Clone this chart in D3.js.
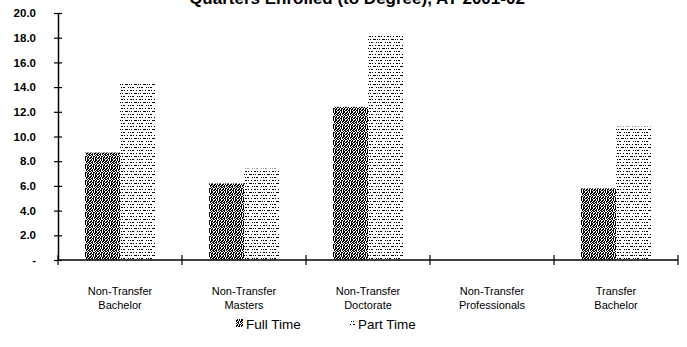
<!DOCTYPE html>
<html>
<head>
<meta charset="utf-8">
<script src="https://cdn.jsdelivr.net/npm/d3@7/dist/d3.min.js"></script>
<style>
  html, body { margin: 0; padding: 0; background: #fff; }
  svg { display: block; }
  text { font-family: "Liberation Sans", Arial, sans-serif; fill: #000; }
</style>
</head>
<body>
<svg id="chart" width="687" height="347"></svg>
<script>
// Average quarters enrolled to degree, by student group
const categories = [
  ["Non-Transfer", "Bachelor"],
  ["Non-Transfer", "Masters"],
  ["Non-Transfer", "Doctorate"],
  ["Non-Transfer", "Professionals"],
  ["Transfer", "Bachelor"]
];
const series = ["Full Time", "Part Time"];
const fullTime = [8.7, 6.2, 12.4, 0, 5.8];
const partTime = [14.3, 7.4, 18.3, 0, 10.8];
const yTicks = [0, 2, 4, 6, 8, 10, 12, 14, 16, 18, 20];
const titleText = "Quarters Enrolled (to Degree), AY 2001-02";

const svg = d3.select("#chart");
const keys = categories.map(c => c.join(" "));
const values = [fullTime, partTime];

const x = d3.scaleBand().domain(keys).range([58, 678]);
const xs = d3.scaleBand().domain(series).range([0, x.bandwidth()]).paddingOuter(0.77);
const y = d3.scaleLinear().domain([0, 20]).range([260, 13]);

// pixel fill patterns: "#" = ink
const defs = svg.append("defs");
function pixelPattern(id, rows, ink) {
  const w = rows[0].length, h = rows.length;
  const p = defs.append("pattern").attr("id", id)
    .attr("patternUnits", "userSpaceOnUse").attr("width", w).attr("height", h);
  p.append("rect").attr("width", w).attr("height", h).attr("fill", "#fff");
  rows.forEach((r, yy) => {
    [...r].forEach((c, xx) => {
      if (c === "#") p.append("rect").attr("x", xx).attr("y", yy)
        .attr("width", 1).attr("height", 1).attr("fill", ink);
    });
  });
}
pixelPattern("pat-full", [
  "##.#.##.",
  "#.#.##.#",
  ".##.#.##",
  "#.#..#.#",
  ".#.##.#.",
  "##.#.##.",
  "#.##.#.#",
  ".#.#.##."
], "#000");
pixelPattern("pat-part", [
  "##.#..#..",
  ".........",
  ".........",
  ".#..###.#",
  ".........",
  ".........",
  "#.##...#.",
  ".........",
  "........."
], "#000");
const fills = ["url(#pat-full)", "url(#pat-part)"];

// title (runs off the top edge)
svg.append("text")
  .attr("x", 357).attr("y", 4)
  .attr("text-anchor", "middle")
  .attr("font-size", 17).attr("font-weight", "bold")
  .text(titleText);

// bars
const groups = svg.append("g").selectAll("g")
  .data(keys).join("g")
  .attr("transform", d => `translate(${x(d)},0)`);
groups.selectAll("rect")
  .data((d, i) => series.map((s, j) => ({ s, j, v: values[j][i] })))
  .join("rect")
  .attr("x", d => Math.round(xs(d.s)))
  .attr("width", Math.round(xs.bandwidth()))
  .attr("y", d => y(d.v))
  .attr("height", d => y(0) - y(d.v))
  .attr("fill", d => fills[d.j]);

// y axis
const yAxis = svg.append("g").attr("transform", "translate(58,0)")
  .call(d3.axisLeft(y).tickValues(yTicks)
    .tickFormat(d => d === 0 ? "-" : d.toFixed(1)).tickSize(0).tickPadding(22));
yAxis.select(".domain").attr("stroke", "#000").attr("stroke-width", 1.5);
yAxis.selectAll(".tick line").attr("x1", -4).attr("x2", 4).attr("stroke", "#000").attr("stroke-width", 1.2);
yAxis.selectAll(".tick text").attr("font-size", 11.5).attr("font-weight", "bold")
  .attr("font-family", "Liberation Sans, Arial, sans-serif");

// x axis line with crossing ticks at category boundaries
const xAxis = svg.append("g");
xAxis.append("line")
  .attr("x1", x.range()[0]).attr("x2", x.range()[1])
  .attr("y1", y(0)).attr("y2", y(0))
  .attr("stroke", "#000").attr("stroke-width", 1.5);
const bounds = keys.map(k => x(k)).concat([x.range()[1]]);
xAxis.selectAll("line.tick").data(bounds).join("line")
  .attr("class", "tick")
  .attr("x1", d => d).attr("x2", d => d)
  .attr("y1", y(0) - 5).attr("y2", y(0) + 5)
  .attr("stroke", "#000").attr("stroke-width", 1.2);

// category labels (two lines)
const lab = svg.append("g").selectAll("text")
  .data(categories).join("text")
  .attr("text-anchor", "middle")
  .attr("font-size", 11)
  .attr("transform", (d, i) => `translate(${x(keys[i]) + x.bandwidth() / 2},295)`);
lab.selectAll("tspan").data(d => d).join("tspan")
  .attr("x", 0).attr("dy", (d, i) => i === 0 ? 0 : 14)
  .text(d => d);

// legend
const legend = svg.append("g").attr("transform", "translate(236,0)");
const legendX = [0, 112];
series.forEach((s, j) => {
  legend.append("rect")
    .attr("x", legendX[j]).attr("y", 319)
    .attr("width", 7).attr("height", 8)
    .attr("fill", fills[j]);
  legend.append("text")
    .attr("x", legendX[j] + 10).attr("y", 329)
    .attr("font-size", 13.5)
    .text(s);
});
</script>
</body>
</html>
